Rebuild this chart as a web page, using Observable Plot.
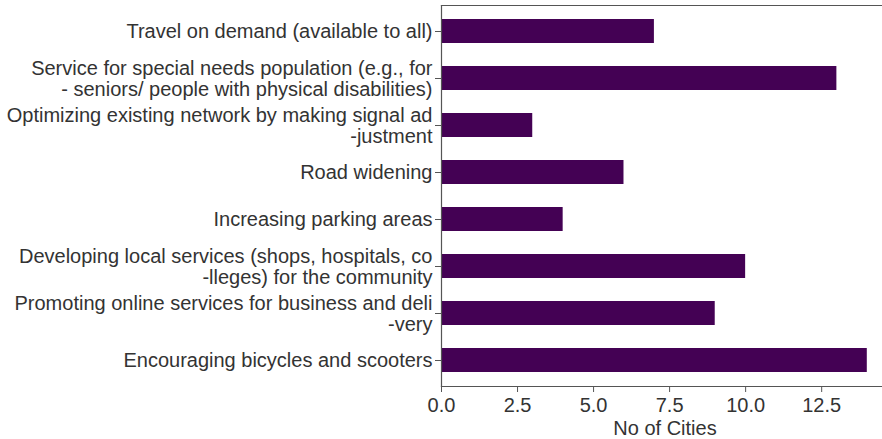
<!DOCTYPE html>
<html><head><meta charset="utf-8">
<script src="https://cdn.jsdelivr.net/npm/d3@7"></script>
<script src="https://cdn.jsdelivr.net/npm/@observablehq/plot@0.6"></script>
<style>
body{margin:0;padding:0;background:#fff;overflow:hidden}
svg{font-family:"Liberation Sans",Arial,sans-serif}
</style>
</head><body><div id="chart"></div>
<script>
const categories = [
  "Travel on demand (available to all)",
  "Service for special needs population (e.g., for\n- seniors/ people with physical disabilities)",
  "Optimizing existing network by making signal ad\n-justment",
  "Road widening",
  "Increasing parking areas",
  "Developing local services (shops, hospitals, co\n-lleges) for the community",
  "Promoting online services for business and deli\n-very",
  "Encouraging bicycles and scooters"
];
const cities = [7, 13, 3, 6, 4, 10, 9, 14];
const xTicks = [0, 2.5, 5, 7.5, 10, 12.5];
const data = categories.map((c, i) => ({category: c, value: cities[i]}));

const chart = Plot.plot({
  width: 882, height: 439,
  marginLeft: 441, marginRight: 0, marginTop: 5, marginBottom: 53,
  style: {fontSize: "20px", color: "#333", background: "#fff"},
  x: {domain: [0, 14.5], ticks: xTicks, tickFormat: d => d.toFixed(1), label: null},
  y: {domain: categories, paddingInner: 0.5, paddingOuter: 0.25, label: null},
  marks: [
    Plot.barX(data, {y: "category", x: "value", fill: "#440154"}),
    Plot.axisX({ticks: xTicks, tickFormat: d => d.toFixed(1), tickSize: 6, tickPadding: 5, fontSize: 20, color: "#333", stroke: "#555", label: null}),
    Plot.axisY({tickSize: 6, tickPadding: 3, fontSize: 20, lineHeight: 1.05, color: "#333", stroke: "#555", label: null}),
    Plot.text(["No of Cities"], {frameAnchor: "bottom", dy: 48, dx: 3, fontSize: 20, fill: "#333", lineAnchor: "bottom"}),
    Plot.frame({anchor: "left", stroke: "#555", strokeWidth: 1.2}),
    Plot.frame({anchor: "bottom", stroke: "#555", strokeWidth: 1.2}),
    Plot.frame({anchor: "top", stroke: "#555", strokeWidth: 1.2})
  ]
});
document.getElementById("chart").appendChild(chart);
</script>
</body></html>
